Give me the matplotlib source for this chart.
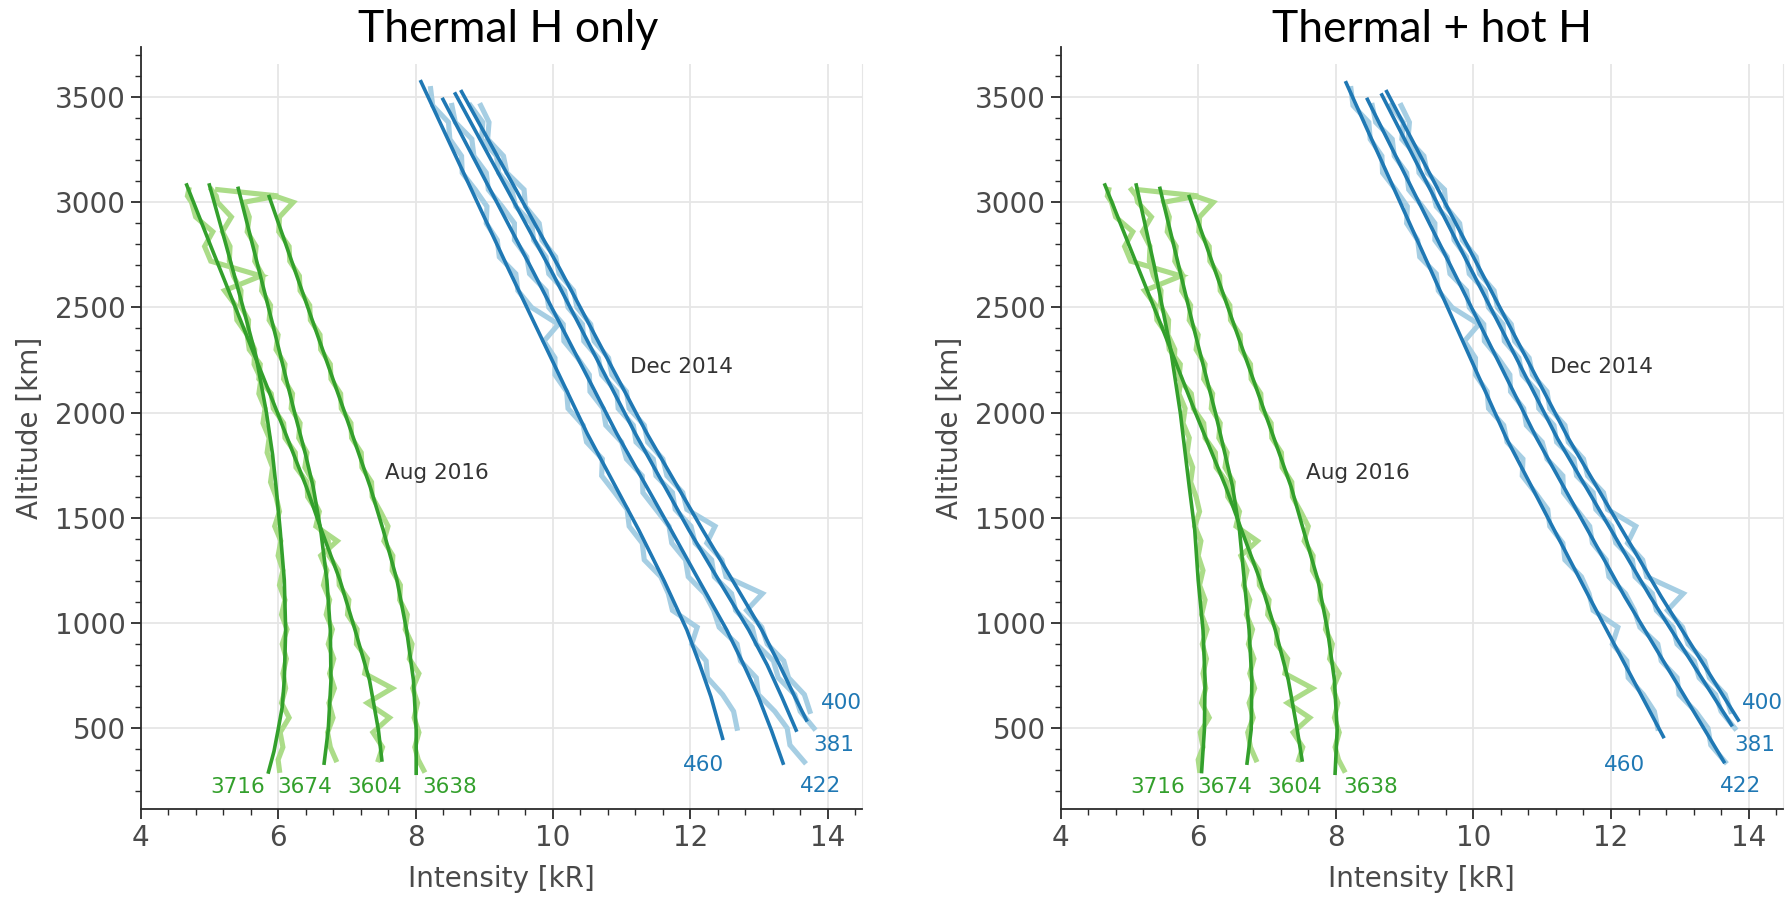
import numpy as np
import matplotlib.pyplot as plt
from matplotlib.ticker import MultipleLocator, AutoMinorLocator
from matplotlib.patches import Rectangle

plt.rcParams['font.family'] = ['DejaVu Sans']

# ---- observed profiles (same data in both panels) ----
alt_aug = [3060, 3030, 3000, 2930, 2860, 2790, 2720, 2650, 2580, 2510, 2440, 2370, 2300, 2230,
           2160, 2090, 2020, 1950, 1880, 1810, 1740, 1670, 1600, 1530, 1460, 1390, 1320, 1250,
           1180, 1110, 1040, 970, 900, 830, 760, 690, 620, 550, 480, 410, 350, 300]
obs_3716 = [5.03, 5.10, 5.12, 5.32, 5.19, 5.30, 5.29, 5.35, 5.46, 5.45, 5.57, 5.56, 5.66, 5.65,
            5.75, 5.72, 5.81, 5.78, 5.87, 5.84, 5.92, 5.89, 5.97, 6.02, 5.95, 6.04, 6.00, 6.07,
            6.02, 6.10, 6.05, 6.13, 6.06, 6.12, 6.07, 6.11, 6.05, 6.16, 6.03, 6.07, 6.00, 6.02]
obs_3674 = [5.12, 6.00, 5.50, 5.58, 5.55, 5.68, 5.66, 5.78, 5.76, 5.89, 5.87, 6.00, 5.97, 6.10,
            6.08, 6.21, 6.19, 6.32, 6.30, 6.42, 6.39, 6.51, 6.49, 6.60, 6.55, 6.86, 6.62, 6.71,
            6.66, 6.75, 6.70, 6.79, 6.73, 6.81, 6.75, 6.82, 6.74, 6.80, 6.72, 6.76, 6.84]
obs_3604 = [4.70, 4.68, 4.74, 4.80, 5.05, 4.93, 5.02, 5.75, 5.22, 5.38, 5.40, 5.55, 5.58, 5.74,
            5.72, 5.90, 5.93, 6.08, 6.10, 6.25, 6.26, 6.42, 6.43, 6.57, 6.58, 6.73, 6.74, 6.88,
            6.89, 7.03, 7.01, 7.15, 7.14, 7.30, 7.26, 7.66, 7.30, 7.62, 7.38, 7.52, 7.46]
obs_3638 = [5.95, 6.22, 6.02, 6.01, 6.16, 6.17, 6.31, 6.32, 6.46, 6.47, 6.61, 6.62, 6.76,
            6.77, 6.91, 6.92, 7.06, 7.07, 7.21, 7.22, 7.36, 7.37, 7.49, 7.60, 7.54, 7.67, 7.66,
            7.78, 7.77, 7.88, 7.85, 7.95, 7.91, 8.05, 7.96, 8.03, 7.98, 8.05, 7.99, 8.04, 8.12]

alt_dec = [3540, 3460, 3380, 3300, 3220, 3140, 3060, 2980, 2900, 2820, 2740, 2660, 2580, 2500,
           2420, 2340, 2260, 2180, 2100, 2020, 1940, 1860, 1780, 1700, 1620, 1540, 1460, 1380,
           1300, 1220, 1140, 1060, 980, 900, 820, 740, 660, 580, 500, 420, 340]
obs_460 = [8.22, 8.25, 8.48, 8.50, 8.67, 8.68, 8.87, 9.04, 9.03, 9.19, 9.22, 9.46, 9.49, 9.69,
           10.08, 9.87, 10.03, 10.03, 10.20, 10.22, 10.44, 10.49, 10.72, 10.71, 10.90, 11.08,
           11.11, 11.30, 11.33, 11.57, 11.68, 11.74, 12.10, 12.02, 12.23, 12.25, 12.47, 12.63, 12.68]
obs_422 = [8.53, 8.58, 8.82, 8.85, 9.03, 9.06, 9.26, 9.44, 9.44, 9.62, 9.66, 9.90, 9.94, 10.15,
           10.16, 10.36, 10.53, 10.54, 10.73, 10.77, 11.00, 11.07, 11.30, 11.31, 11.50, 11.69,
           11.73, 11.93, 11.97, 12.21, 12.34, 12.42, 12.68, 12.73, 12.96, 12.99, 13.23, 13.41,
           13.45, 13.66]
obs_381 = [8.80, 8.98, 8.96, 9.18, 9.21, 9.40, 9.46, 9.69, 9.72, 9.90, 9.94, 10.17, 10.22,
           10.43, 10.45, 10.66, 10.71, 10.93, 10.95, 11.17, 11.21, 11.46, 11.50, 11.74, 11.78,
           12.01, 12.07, 12.31, 12.35, 12.60, 12.66, 12.90, 12.96, 13.21, 13.28, 13.52, 13.60, 13.80]
obs_400 = [8.95, 9.07, 9.05, 9.28, 9.33, 9.58, 9.60, 9.80, 9.84, 10.04, 10.09, 10.30, 10.35,
           10.55, 10.60, 10.81, 10.86, 11.07, 11.11, 11.33, 11.38, 11.60, 11.66, 11.89, 11.95,
           12.36, 12.24, 12.46, 12.52, 13.05, 12.82, 13.04, 13.12, 13.36, 13.43, 13.66, 13.74]

# ---- model fits: thermal H only (left) ----
fitL_3716_alt = [3082, 2800, 2500, 2266, 2000, 1800, 1648, 1442, 1204, 967, 729, 600, 492, 390, 292]
fitL_3716 = [5.00, 5.24, 5.49, 5.68, 5.83, 5.92, 5.97, 6.03, 6.09, 6.11, 6.09, 6.06, 6.00, 5.94, 5.86]
fitL_3674_alt = [3066, 2409, 2000, 1800, 1648, 1442, 1204, 967, 729, 492, 334]
fitL_3674 = [5.42, 5.93, 6.24, 6.40, 6.51, 6.62, 6.71, 6.76, 6.77, 6.73, 6.67]
fitL_3604_alt = [3082, 2800, 2409, 2000, 1648, 1442, 1204, 967, 729, 492, 349]
fitL_3604 = [4.67, 5.01, 5.49, 5.99, 6.41, 6.63, 6.90, 7.12, 7.33, 7.46, 7.51]
fitL_3638_alt = [3027, 2409, 2000, 1800, 1648, 1442, 1204, 967, 729, 492, 286]
fitL_3638 = [5.87, 6.53, 6.97, 7.18, 7.34, 7.53, 7.73, 7.87, 7.97, 8.01, 8.01]
fitL_460_alt = [3573, 2678, 1900, 1442, 1200, 967, 800, 650, 452]
fitL_460 = [8.08, 9.36, 10.50, 11.25, 11.62, 11.95, 12.14, 12.30, 12.47]
fitL_422_alt = [3489, 2678, 1900, 1442, 1200, 967, 800, 650, 490, 334]
fitL_422 = [8.40, 9.70, 10.93, 11.72, 12.13, 12.53, 12.78, 12.99, 13.18, 13.35]
fitL_381_alt = [3515, 2678, 1900, 1442, 1200, 967, 800, 650, 491]
fitL_381 = [8.58, 9.97, 11.20, 11.98, 12.42, 12.85, 13.12, 13.33, 13.54]
fitL_400_alt = [3526, 2678, 1900, 1442, 1200, 967, 800, 650, 539]
fitL_400 = [8.67, 10.11, 11.37, 12.18, 12.62, 13.04, 13.30, 13.52, 13.69]

# ---- model fits: thermal + hot H (right) ----
fitR_3716_alt = [3082, 2700, 2300, 2000, 1648, 1442, 1204, 967, 729, 492, 294]
fitR_3716 = [5.10, 5.36, 5.60, 5.74, 5.87, 5.95, 6.00, 6.07, 6.10, 6.09, 6.05]
fitR_3674_alt = [3066, 2409, 2000, 1648, 1442, 1204, 967, 729, 492, 334]
fitR_3674 = [5.445, 5.93, 6.25, 6.50, 6.60, 6.67, 6.74, 6.78, 6.77, 6.71]
fitR_3604_alt = [3082, 2409, 2000, 1648, 1442, 1204, 967, 729, 492, 349]
fitR_3604 = [4.645, 5.47, 5.96, 6.40, 6.63, 6.90, 7.12, 7.31, 7.44, 7.51]
fitR_3638_alt = [3027, 2409, 2000, 1648, 1442, 1204, 967, 729, 492, 286]
fitR_3638 = [5.87, 6.53, 6.97, 7.35, 7.53, 7.74, 7.88, 7.98, 8.02, 7.99]
fitR_460_alt = [3568, 2678, 1878, 1125, 460]
fitR_460 = [8.15, 9.38, 10.48, 11.68, 12.76]
fitR_422_alt = [3489, 2678, 1878, 1125, 341]
fitR_422 = [8.46, 9.70, 10.92, 12.20, 13.64]
fitR_381_alt = [3510, 2678, 1878, 1125, 516]
fitR_381 = [8.67, 9.97, 11.22, 12.57, 13.75]
fitR_400_alt = [3526, 2678, 1878, 1125, 539]
fitR_400 = [8.74, 10.10, 11.38, 12.73, 13.85]

orbit_labels = ['3716', '3674', '3604', '3638', '460', '422', '381', '400']
label_x = [5.41, 6.39, 7.40, 8.50, 12.19, 13.89, 14.09, 14.20]
label_alt = [222, 222, 222, 222, 326, 226, 421, 622]

light_green, dark_green = '#abdc88', '#33a02c'
light_blue, dark_blue = '#a6cee3', '#1f78b4'

green_obs = [(alt_aug, obs_3716), (alt_aug[:41], obs_3674), (alt_aug[:41], obs_3604),
             (alt_aug[1:], obs_3638)]
blue_obs = [(alt_dec[:39], obs_460), (alt_dec[1:], obs_422), (alt_dec[1:39], obs_381),
            (alt_dec[1:38], obs_400)]

fits_left = [(fitL_3716_alt, fitL_3716), (fitL_3674_alt, fitL_3674), (fitL_3604_alt, fitL_3604),
             (fitL_3638_alt, fitL_3638), (fitL_460_alt, fitL_460), (fitL_422_alt, fitL_422),
             (fitL_381_alt, fitL_381), (fitL_400_alt, fitL_400)]
fits_right = [(fitR_3716_alt, fitR_3716), (fitR_3674_alt, fitR_3674), (fitR_3604_alt, fitR_3604),
              (fitR_3638_alt, fitR_3638), (fitR_460_alt, fitR_460), (fitR_422_alt, fitR_422),
              (fitR_381_alt, fitR_381), (fitR_400_alt, fitR_400)]

fig = plt.figure(figsize=(17.9, 9.02), dpi=100)
axL = fig.add_axes([0.0786, 0.1031, 0.4030, 0.8448])
axR = fig.add_axes([0.5925, 0.1031, 0.4036, 0.8448])

text_gray = '#4a4a4a'


def draw(ax, fits):
    for alt, vals in green_obs:
        ax.plot(vals, alt[:len(vals)], color=light_green, lw=3.7, solid_joinstyle='miter', zorder=2)
    for alt, vals in blue_obs:
        ax.plot(vals, alt[:len(vals)], color=light_blue, lw=3.7, solid_joinstyle='miter', zorder=2)
    for i, (alt, vals) in enumerate(fits):
        c = dark_green if i < 4 else dark_blue
        ax.plot(vals, alt, color=c, lw=2.6, zorder=3)
    for i, lab in enumerate(orbit_labels):
        c = dark_green if i < 4 else dark_blue
        ax.text(label_x[i], label_alt[i], lab, color=c, fontsize=15.5, ha='center', va='center')
    ax.text(11.12, 2219, 'Dec 2014', color='#333333', fontsize=15.5, va='center')
    ax.text(7.56, 1715, 'Aug 2016', color='#333333', fontsize=15.5, va='center')

    ax.set_xlim(4, 14.5)
    ax.set_ylim(116, 3738)
    ax.xaxis.set_major_locator(MultipleLocator(2))
    ax.xaxis.set_minor_locator(AutoMinorLocator(5))
    ax.yaxis.set_major_locator(MultipleLocator(500))
    ax.yaxis.set_minor_locator(AutoMinorLocator(5))
    ax.set_axisbelow(True)
    ax.grid(True, which='major', color='#e6e6e6', lw=1.3)
    ax.spines['top'].set_visible(False)
    ax.spines['right'].set_color('#e6e6e6')
    for s in ['left', 'bottom']:
        ax.spines[s].set_color('#2b2b2b')
        ax.spines[s].set_linewidth(1.3)
    ax.tick_params(which='major', length=7, width=1.3, color='#2b2b2b', labelsize=20,
                   labelcolor=text_gray, right=False, top=False)
    ax.tick_params(which='minor', length=4, width=1.0, color='#2b2b2b', right=False, top=False)
    ax.set_xlabel('Intensity [kR]', fontsize=20, color=text_gray, labelpad=10)
    ax.set_ylabel('Altitude [km]', fontsize=20, color=text_gray, labelpad=8)
    # the pasted title box hides the top of the plot area
    ax.add_patch(Rectangle((4.03, 3655), 10.6, 200, transform=ax.transData, facecolor='white',
                           edgecolor='none', clip_on=False, zorder=2.6))


draw(axL, fits_left)
draw(axR, fits_right)

fig.text(0.2837, 0.9538, 'Thermal H only', fontsize=32, family=['Lato', 'DejaVu Sans'],
         ha='center', va='baseline', color='black')
fig.text(0.7998, 0.9538, 'Thermal + hot H', fontsize=32, family=['Lato', 'DejaVu Sans'],
         ha='center', va='baseline', color='black')

fig.savefig('out.png', dpi=100, facecolor='white')
